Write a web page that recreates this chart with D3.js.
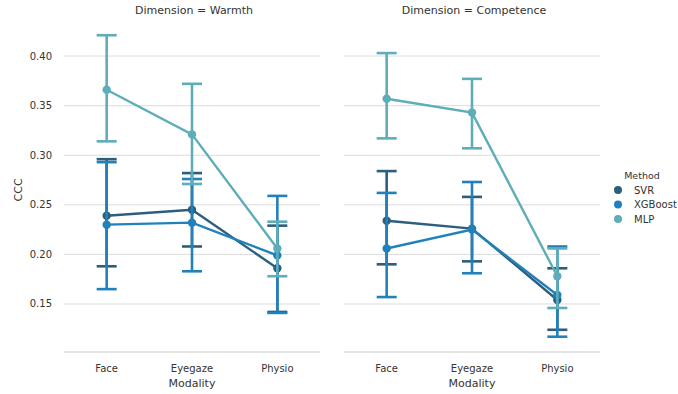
<!DOCTYPE html>
<html>
<head>
<meta charset="utf-8">
<script src="https://cdn.jsdelivr.net/npm/d3@7/dist/d3.min.js"></script>
<style>
  body { margin: 0; background: #fff; }
  text { font-family: "DejaVu Sans", sans-serif; fill: #333; }
</style>
</head>
<body>
<div id="chart"></div>
<script>
const modalities = ["Face", "Eyegaze", "Physio"];
const methods = ["SVR", "XGBoost", "MLP"];
const dimensions = ["Warmth", "Competence"];
const colors = ["#2c5e7e", "#2181bb", "#5eadb9"];
const yTicks = [0.15, 0.20, 0.25, 0.30, 0.35, 0.40];

// mean and 95% CI per method, order Face, Eyegaze, Physio
const warmthMean = {
  SVR:     [0.239, 0.245, 0.186],
  XGBoost: [0.230, 0.232, 0.199],
  MLP:     [0.366, 0.321, 0.206]
};
const warmthLow = {
  SVR:     [0.188, 0.208, 0.142],
  XGBoost: [0.165, 0.183, 0.141],
  MLP:     [0.314, 0.271, 0.178]
};
const warmthHigh = {
  SVR:     [0.296, 0.282, 0.229],
  XGBoost: [0.293, 0.276, 0.259],
  MLP:     [0.421, 0.372, 0.233]
};
const competenceMean = {
  SVR:     [0.234, 0.226, 0.154],
  XGBoost: [0.206, 0.225, 0.159],
  MLP:     [0.357, 0.343, 0.178]
};
const competenceLow = {
  SVR:     [0.190, 0.193, 0.124],
  XGBoost: [0.157, 0.181, 0.117],
  MLP:     [0.317, 0.307, 0.146]
};
const competenceHigh = {
  SVR:     [0.284, 0.258, 0.186],
  XGBoost: [0.262, 0.273, 0.208],
  MLP:     [0.403, 0.377, 0.206]
};
const panelData = {
  Warmth: [warmthMean, warmthLow, warmthHigh],
  Competence: [competenceMean, competenceLow, competenceHigh]
};

const width = 678, height = 394;
const panelLeft = [64, 344], panelW = 256;
const y = d3.scaleLinear().domain([0.1016, 0.43]).range([352, 26.3]);

const svg = d3.select("#chart").append("svg")
  .attr("width", width).attr("height", height);

dimensions.forEach((dim, pi) => {
  const x = d3.scalePoint().domain(modalities)
    .range([panelLeft[pi], panelLeft[pi] + panelW]).padding(0.5);
  const g = svg.append("g");

  // grid
  g.selectAll("line.grid").data(yTicks).join("line")
    .attr("x1", panelLeft[pi]).attr("x2", panelLeft[pi] + panelW)
    .attr("y1", d => y(d)).attr("y2", d => y(d))
    .attr("stroke", "#dcdcdc").attr("stroke-width", 1);

  // bottom spine
  g.append("line")
    .attr("x1", panelLeft[pi]).attr("x2", panelLeft[pi] + panelW)
    .attr("y1", y.range()[0]).attr("y2", y.range()[0])
    .attr("stroke", "#cccccc").attr("stroke-width", 1);

  // x tick labels
  g.selectAll("text.xt").data(modalities).join("text")
    .attr("x", d => x(d)).attr("y", 372)
    .attr("text-anchor", "middle").attr("font-size", "10px")
    .text(d => d);
  g.append("text")
    .attr("x", panelLeft[pi] + panelW / 2).attr("y", 387)
    .attr("text-anchor", "middle").attr("font-size", "11px")
    .text("Modality");

  g.append("text")
    .attr("x", panelLeft[pi] + panelW / 2 + 2).attr("y", 14)
    .attr("text-anchor", "middle").attr("font-size", "11px")
    .text("Dimension = " + dim);

  if (pi === 0) {
    g.selectAll("text.yt").data(yTicks).join("text")
      .attr("x", 52).attr("y", d => y(d)).attr("dy", "0.35em")
      .attr("text-anchor", "end").attr("font-size", "10px")
      .text(d => d3.format(".2f")(d));
    g.append("text")
      .attr("transform", `translate(22,${y(0.265)}) rotate(-90)`)
      .attr("text-anchor", "middle").attr("font-size", "11px")
      .text("CCC");
  }

  const [mean, low, high] = panelData[dim];
  methods.forEach((m, mi) => {
    const c = colors[mi];
    const mg = g.append("g");
    const pts = modalities.map((mod, i) => ({mod, v: mean[m][i], lo: low[m][i], hi: high[m][i]}));

    mg.selectAll("line.err").data(pts).join("line")
      .attr("x1", d => x(d.mod)).attr("x2", d => x(d.mod))
      .attr("y1", d => y(d.lo)).attr("y2", d => y(d.hi))
      .attr("stroke", c).attr("stroke-width", 2.6);
    ["lo", "hi"].forEach(k => {
      mg.selectAll("line.cap" + k).data(pts).join("line")
        .attr("x1", d => x(d.mod) - 10).attr("x2", d => x(d.mod) + 10)
        .attr("y1", d => y(d[k])).attr("y2", d => y(d[k]))
        .attr("stroke", c).attr("stroke-width", 2.6);
    });

    mg.append("path").datum(pts)
      .attr("d", d3.line().x(d => x(d.mod)).y(d => y(d.v)))
      .attr("fill", "none").attr("stroke", c).attr("stroke-width", 2.4);

    mg.selectAll("circle").data(pts).join("circle")
      .attr("cx", d => x(d.mod)).attr("cy", d => y(d.v)).attr("r", 4.2)
      .attr("fill", c);
  });
});

// legend
const lg = svg.append("g");
lg.append("text").attr("x", 642).attr("y", 179)
  .attr("text-anchor", "middle").attr("font-size", "9.5px").text("Method");
methods.forEach((m, i) => {
  lg.append("circle").attr("cx", 618).attr("cy", 190 + i * 14.5).attr("r", 4).attr("fill", colors[i]);
  lg.append("text").attr("x", 634).attr("y", 190 + i * 14.5).attr("dy", "0.35em")
    .attr("font-size", "10px").text(m);
});
</script>
</body>
</html>
